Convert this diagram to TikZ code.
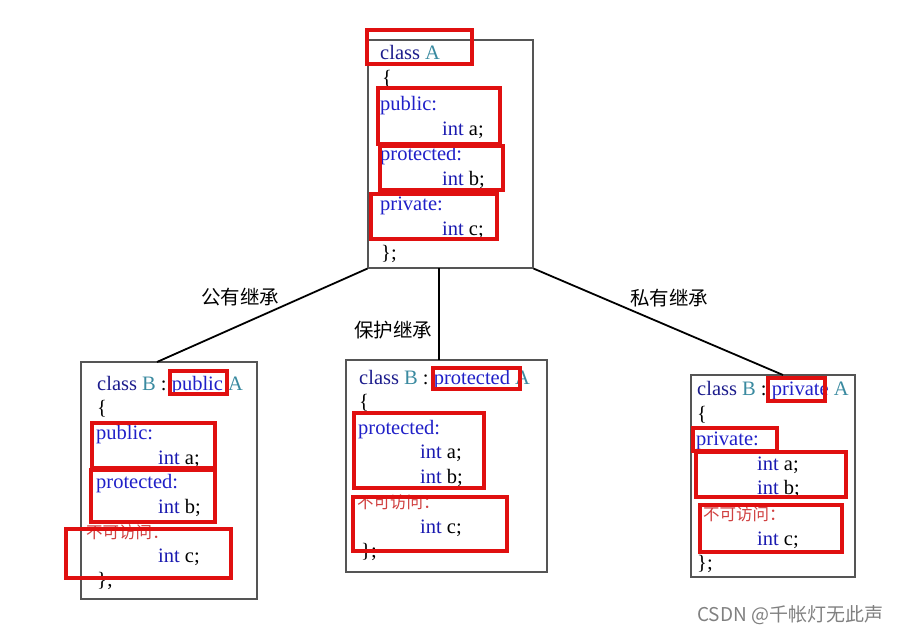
\documentclass[tikz,border=0pt]{standalone}
\usepackage{fontspec}
\setmainfont{Liberation Serif}
\newfontfamily\cjk{Noto Sans CJK SC}
\definecolor{navy}{HTML}{1C1C8C}
\definecolor{tealc}{HTML}{3A8AA0}
\definecolor{kwblue}{HTML}{2020C8}
\definecolor{intblue}{HTML}{1A1AB0}
\definecolor{hired}{HTML}{E01010}
\definecolor{nared}{HTML}{D04040}
\definecolor{frame}{HTML}{555555}
\newcommand{\cl}[1]{\textcolor{navy}{#1}}
\newcommand{\tn}[1]{\textcolor{tealc}{#1}}
\newcommand{\kw}[1]{\textcolor{kwblue}{#1}}
\newcommand{\ity}{\textcolor{intblue}{int}}
\tikzset{
  code/.style={anchor=base west,inner sep=0pt,font=\fontsize{20.5}{24}\selectfont},
  natext/.style={anchor=base west,inner sep=0pt,text=nared,font=\cjk\fontsize{16.5}{19}\selectfont},
  classbox/.style={draw=frame,line width=1.1pt,inner sep=0pt},
  hl/.style={draw=hired,line width=3.2pt},
  edge/.style={draw=black,line width=1.8pt},
  lbl/.style={inner sep=0pt,font=\cjk\fontsize{19.5}{22}\selectfont}
}
\begin{document}
\begin{tikzpicture}[x=1pt,y=-1pt]
\useasboundingbox (0,0) rectangle (905,636);
% class boxes
\node[classbox,minimum width=165,minimum height=228] (A) at (450.5,154) {};
\node[classbox,minimum width=176,minimum height=237] (B1) at (169,480.5) {};
\node[classbox,minimum width=201,minimum height=212] (B2) at (446.5,466) {};
\node[classbox,minimum width=164,minimum height=202] (B3) at (773,476) {};
% connectors
\coordinate (e1) at (157,362);
\coordinate (e2) at (439,360);
\coordinate (e3) at (783,375);
\coordinate (s2) at (439,268);
\draw[edge] (A.south west) -- (e1);
\draw[edge] (s2) -- (e2);
\draw[edge] (A.south east) -- (e3);
\node[lbl] (l1) at (240,297) {公有继承};
\node[lbl] (l2) at (393,330) {保护继承};
\node[lbl] (l3) at (669,298) {私有继承};
% Box A text
\node[code] (a0) at (380,60) {\cl{class} \tn{A}};
\node[code] (a1) at (382,85) {\{};
\node[code] (a2) at (380,111) {\kw{public:}};
\node[code] (a3) at (442,136) {\ity{} a;};
\node[code] (a4) at (380,161) {\kw{protected:}};
\node[code] (a5) at (442,186) {\ity{} b;};
\node[code] (a6) at (380,211) {\kw{private:}};
\node[code] (a7) at (442,236) {\ity{} c;};
\node[code] (a8) at (381,260) {\};};
\draw[hl] (367,30) rectangle (472,64);
\draw[hl] (378,88) rectangle (500,144);
\draw[hl] (380,146) rectangle (503,190);
\draw[hl] (371,194) rectangle (497,239);
% Box B1 text
\node[code] (b0) at (97,390) {\cl{class} \tn{B} : \kw{public} \tn{A}};
\node[code] (b1) at (97,414) {\{};
\node[code] (b2) at (96,439) {\kw{public:}};
\node[code] (b3) at (158,464) {\ity{} a;};
\node[code] (b4) at (96,488) {\kw{protected:}};
\node[code] (b5) at (158,513) {\ity{} b;};
\node[natext] (b6) at (86,538) {不可访问：};
\node[code] (b7) at (158,562) {\ity{} c;};
\node[code] (b8) at (97,586) {\};};
\draw[hl] (170,371) rectangle (227,394);
\draw[hl] (92,423) rectangle (215,468);
\draw[hl] (91,470) rectangle (215,522);
\draw[hl] (66,529) rectangle (231,578);
% Box B2 text
\node[code] (c0) at (359,384) {\cl{class} \tn{B} : \kw{protected} \tn{A}};
\node[code] (c1) at (359,408) {\{};
\node[code] (c2) at (358,434) {\kw{protected:}};
\node[code] (c3) at (420,458) {\ity{} a;};
\node[code] (c4) at (420,483) {\ity{} b;};
\node[natext] (c5) at (357,508) {不可访问：};
\node[code] (c6) at (420,533) {\ity{} c;};
\node[code] (c7) at (361,557) {\};};
\draw[hl] (433,368) rectangle (520,389);
\draw[hl] (354,413) rectangle (484,488);
\draw[hl] (353,497) rectangle (507,551);
% Box B3 text
\node[code] (d0) at (697,395) {\cl{class} \tn{B} : \kw{private} \tn{A}};
\node[code] (d1) at (697,420) {\{};
\node[code] (d2) at (696,445) {\kw{private:}};
\node[code] (d3) at (757,470) {\ity{} a;};
\node[code] (d4) at (757,494) {\ity{} b;};
\node[natext] (d5) at (703,520) {不可访问：};
\node[code] (d6) at (757,545) {\ity{} c;};
\node[code] (d7) at (697,569) {\};};
\draw[hl] (768,378) rectangle (825,401);
\draw[hl] (693,428) rectangle (777,451);
\draw[hl] (696,452) rectangle (846,497);
\draw[hl] (700,505) rectangle (842,552);
% watermark
\node[inner sep=0pt,anchor=west,text=black!50,font=\cjk\fontsize{19}{21}\selectfont] (wm) at (697,615) {CSDN @千帐灯无此声};
\end{tikzpicture}
\end{document}
